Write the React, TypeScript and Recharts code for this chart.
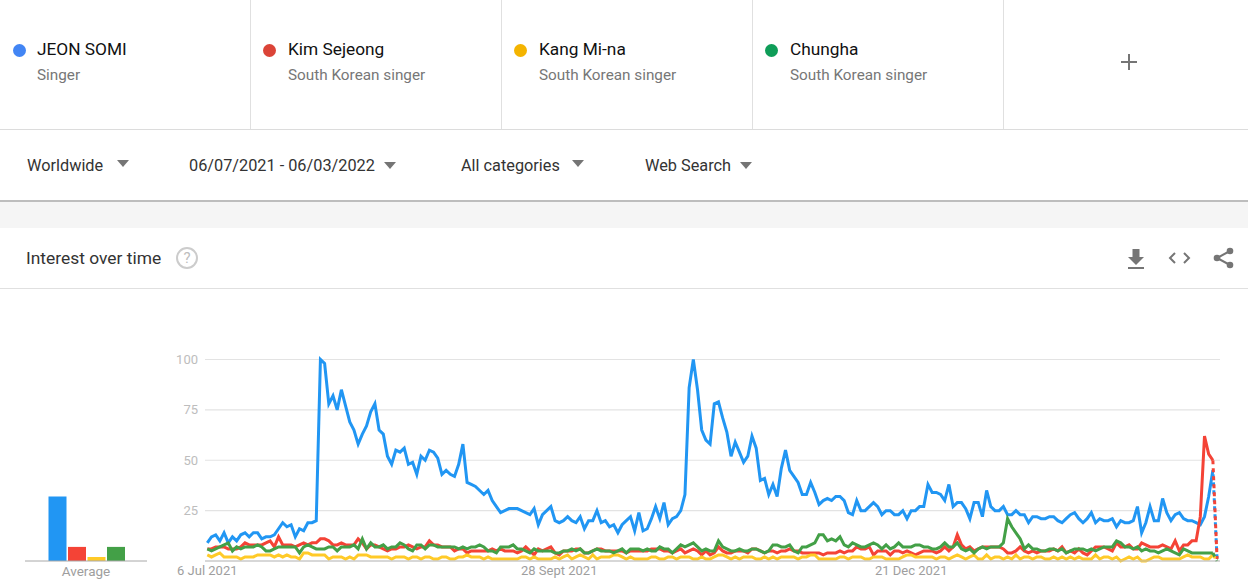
import { BarChart, Bar, LineChart, Line, XAxis, YAxis, CartesianGrid } from "recharts";

// daily interest
const jeonSomi = [
  9, 12, 13, 10, 14, 9, 12, 10, 13, 14,
  12, 14, 14, 11, 12, 12, 13, 16, 19, 17,
  18, 12, 16, 15, 19, 19, 20, 100, 98, 78,
  82, 75, 85, 77, 69, 65, 58, 63, 67, 74,
  78, 65, 63, 52, 48, 55, 54, 56, 48, 49,
  43, 52, 50, 55, 54, 51, 43, 45, 43, 42,
  48, 58, 39, 38, 37, 35, 33, 35, 30, 27,
  24, 25, 26, 26, 26, 25, 24, 23,
  26, 18, 23, 25, 27, 20, 19, 20, 22, 20,
  19, 22, 16, 20, 20, 25, 19, 20, 17, 18,
  14, 18, 20, 22, 15, 24, 15, 16, 21, 27,
  21, 29, 18, 21, 22, 25, 33, 86, 100,
  85, 65, 60, 58, 78, 79, 71, 64, 52, 59,
  54, 49, 52, 62, 56, 40, 41, 33, 38, 32,
  46, 55, 45, 42, 39, 33, 33, 39, 34, 28,
  30, 31, 30, 32, 32, 30, 24, 23, 30, 25, 25,
  27, 29, 27, 23, 25, 25, 23, 23, 25, 21,
  25, 25, 27, 27, 38, 34, 34, 33, 30, 38,
  27, 29, 29, 26, 21, 29, 29, 22, 35, 27,
  25, 25, 27, 23, 23, 25, 23, 23, 19, 22,
  22, 21, 21, 22, 22, 20, 19, 21, 23, 24,
  21, 19, 21, 24, 19, 21, 20, 20, 21, 17,
  20, 19, 19, 20, 27, 14, 19, 27, 20, 20,
  31, 24, 20, 23, 24, 21, 20, 20, 19, 18,
  22, 32, 45, 1,
];

const kimSejeong = [
  6, 6, 7, 7, 7, 6, 6, 6, 7, 9,
  8, 8, 8, 8, 9, 10, 7, 12, 8, 8,
  8, 7, 8, 9, 8, 9, 9, 11, 11, 10,
  8, 8, 9, 8, 8, 8, 11, 9, 6, 8,
  8, 7, 6, 5, 6, 6, 7, 7, 8, 7,
  6, 7, 7, 10, 8, 8, 7, 7, 7, 5,
  6, 6, 4, 5, 5, 5, 5, 5, 6, 5,
  6, 5, 5, 5, 4, 5, 7, 5,
  3, 6, 5, 6, 7, 4, 3, 5, 5, 5,
  6, 6, 4, 4, 5, 6, 6, 5, 5, 5,
  5, 5, 4, 5, 5, 5, 5, 5, 6,
  6, 6, 5, 5, 4, 5, 6, 4, 5, 6,
  5, 3, 5, 3, 4, 7, 5, 4, 4, 5,
  5, 5, 4, 6, 6, 5, 4, 5, 5, 4,
  5, 5, 6, 5, 5, 4, 4, 4, 4, 4,
  3, 4, 4, 4, 5, 4, 5, 5, 7, 6, 6,
  7, 3, 5, 5, 5, 3, 5, 5, 4, 5,
  4, 3, 4, 5, 5, 5, 4, 5, 7, 5,
  7, 13, 8, 6, 7, 5, 6, 7, 7, 7,
  7, 7, 6, 4, 4, 5, 7, 5, 4, 5,
  4, 5, 5, 5, 6, 5, 7, 4, 5, 4,
  6, 4, 3, 5, 7, 7, 7, 6, 5, 9,
  7, 7, 8, 6, 6, 9, 8, 7, 7, 7,
  8, 7, 6, 10, 5, 8, 8, 10, 10, 22,
  62, 53, 50, 1,
];

const kangMina = [
  3, 2, 3, 4, 2, 2, 2, 2, 1, 2,
  2, 2, 3, 3, 3, 3, 2, 3, 2, 3,
  2, 2, 1, 4, 4, 3, 3, 3, 3, 1,
  2, 2, 2, 1, 2, 1, 3, 3, 3, 2,
  2, 2, 2, 2, 1, 2, 2, 2, 1, 2,
  2, 1, 2, 2, 1, 1, 2, 2, 1, 1,
  2, 2, 3, 2, 2, 2, 1, 2, 1, 1,
  1, 1, 1, 1, 1, 2, 2, 1,
  2, 1, 1, 1, 1, 2, 1, 2, 3, 1,
  2, 3, 2, 1, 3, 1, 2, 2, 2, 3,
  3, 2, 1, 2, 1, 1, 1, 1, 2, 2,
  1, 1, 2, 2, 1, 2, 2, 2, 1, 1,
  2, 1, 1, 2, 3, 3, 2, 1, 2, 1,
  2, 2, 2, 1, 1, 2, 1, 2, 1, 2,
  2, 2, 2, 1, 2, 2, 3, 3, 1, 1,
  1, 1, 1, 2, 2, 1, 2, 2, 2, 1,
  1, 2, 2, 2, 1, 1, 1, 1, 2, 3,
  3, 2, 2, 2, 2, 2, 1, 2, 2, 1,
  2, 3, 2, 1, 2, 3, 1, 1, 3, 1,
  2, 2, 1, 2, 1, 3, 1, 2, 2, 1,
  2, 2, 1, 1, 2, 1, 2, 1, 2, 1,
  2, 1, 1, 1, 3, 1, 2, 2, 1, 2,
  0, 1, 2, 1, 2, 0, 0, 1, 2, 2,
  1, 1, 1, 1, 1, 2, 3, 2, 2, 2,
  1, 1, 3, 0,
];

const chungha = [
  6, 5, 6, 7, 8, 9, 5, 7, 6, 7,
  7, 7, 8, 7, 5, 5, 6, 7, 7, 7,
  7, 7, 4, 7, 8, 7, 6, 6, 6, 7,
  7, 5, 7, 7, 7, 8, 6, 11, 6, 9,
  7, 7, 8, 6, 7, 7, 9, 8, 6, 5,
  8, 8, 6, 8, 8, 7, 7, 7, 7, 7,
  6, 7, 6, 7, 7, 8, 7, 5, 5, 4,
  7, 7, 7, 8, 6, 6, 5, 4,
  6, 5, 5, 5, 5, 4, 4, 5, 5, 6,
  5, 6, 4, 4, 5, 6, 5, 5, 5, 4,
  5, 6, 4, 6, 6, 6, 5, 6, 5, 5,
  7, 6, 6, 4, 6, 8, 7, 8, 9,
  7, 5, 6, 5, 5, 10, 7, 6, 5, 5,
  6, 5, 5, 6, 6, 5, 4, 5, 8, 8,
  7, 7, 8, 5, 4, 7, 7, 8, 9, 13,
  13, 10, 11, 10, 12, 8, 7, 9, 8, 7, 7,
  8, 9, 8, 6, 8, 6, 7, 9, 7, 7,
  7, 8, 8, 7, 7, 6, 6, 7, 9, 7,
  7, 9, 6, 5, 6, 4, 6, 7, 6, 7,
  7, 7, 9, 21, 17, 14, 11, 6, 8, 6,
  6, 5, 5, 6, 6, 5, 6, 4, 5, 6,
  6, 6, 5, 6, 5, 6, 7, 7, 7, 10,
  9, 7, 7, 6, 7, 5, 6, 5, 5, 4,
  5, 6, 5, 4, 3, 6, 5, 4, 4, 4,
  4, 4, 4, 0,
];

const averages = [32, 7, 2, 7];
const yTicks = [25, 50, 75, 100];
const xTicks = [0, 84, 168];
const xTickLabels = ["6 Jul 2021", "28 Sept 2021", "21 Dec 2021"];

const terms = ["JEON SOMI", "Kim Sejeong", "Kang Mi-na", "Chungha"];
const termNotes = ["Singer", "South Korean singer", "South Korean singer", "South Korean singer"];
const termDots = ["#4285F4", "#DB4437", "#F4B400", "#0F9D58"];
const filters = ["Worldwide", "06/07/2021 - 06/03/2022", "All categories", "Web Search"];

const BLUE = "#2196F3";
const RED = "#F44336";
const YELLOW = "#FFCA28";
const GREEN = "#43A047";
const FONT = "Roboto, sans-serif";

const lastIndex = jeonSomi.length - 1;
// the last day is partial, so it gets its own dashed segment
const solid = (v: number, i: number) => (i < lastIndex ? v : null);
const partial = (v: number, i: number) => (i >= lastIndex - 1 ? v : null);

const lineData = jeonSomi.map((_, i) => ({
  day: i,
  somi: solid(jeonSomi[i], i),
  sejeong: solid(kimSejeong[i], i),
  mina: solid(kangMina[i], i),
  chungha: solid(chungha[i], i),
  somiPartial: partial(jeonSomi[i], i),
  sejeongPartial: partial(kimSejeong[i], i),
  minaPartial: partial(kangMina[i], i),
  chunghaPartial: partial(chungha[i], i),
}));

const barData = [{ name: "Average", somi: averages[0], sejeong: averages[1], mina: averages[2], chungha: averages[3] }];

const abs = (left: number, top: number, extra: React.CSSProperties = {}): React.CSSProperties => ({
  position: "absolute",
  left,
  top,
  whiteSpace: "nowrap",
  ...extra,
});

function Triangle({ x, y }: { x: number; y: number }) {
  return (
    <div
      style={abs(x, y, {
        width: 0,
        height: 0,
        borderLeft: "6.5px solid transparent",
        borderRight: "6.5px solid transparent",
        borderTop: "7px solid #757575",
      })}
    />
  );
}

function Header() {
  const termX = [37, 288, 539, 790];
  const dotX = [12.5, 263, 514, 765];
  const filterX = [27, 189, 461, 645];
  const triangleX = [116.5, 384, 572, 740];
  const triangleY = [160, 162, 160, 162];
  return (
    <>
      {[250, 501, 752, 1003].map((x) => (
        <div key={x} style={abs(x, 0, { width: 1, height: 129, background: "#e0e0e0" })} />
      ))}
      <div style={abs(0, 129, { width: 1248, height: 1, background: "#dcdcdc" })} />
      {terms.map((t, i) => (
        <div key={t}>
          <div style={abs(dotX[i], 44, { width: 13, height: 13, borderRadius: "50%", background: termDots[i] })} />
          <div style={abs(termX[i], 40, { fontSize: 17.3, lineHeight: "19px", color: "#111" })}>{t}</div>
          <div style={abs(termX[i], 67, { fontSize: 15.3, lineHeight: "17px", color: "#777" })}>{termNotes[i]}</div>
        </div>
      ))}
      <div style={abs(1121, 61, { width: 16, height: 2, background: "#757575" })} />
      <div style={abs(1128, 54, { width: 2, height: 16, background: "#757575" })} />

      {filters.map((f, i) => (
        <div key={f}>
          <div style={abs(filterX[i], 156, { fontSize: 16.3, lineHeight: "19px", color: "#333" })}>{f}</div>
          <Triangle x={triangleX[i]} y={triangleY[i]} />
        </div>
      ))}
      <div style={abs(0, 200, { width: 1248, height: 2, background: "#bdbdbd" })} />
      <div style={abs(0, 202, { width: 1248, height: 26, background: "#f5f5f5" })} />

      <div style={abs(26, 249, { fontSize: 17.4, lineHeight: "19px", color: "#333" })}>Interest over time</div>
      <div
        style={abs(176, 247, {
          width: 18,
          height: 18,
          border: "2px solid #ccc",
          borderRadius: "50%",
          color: "#bdbdbd",
          fontSize: 15,
          lineHeight: "18px",
          textAlign: "center",
        })}
      >
        ?
      </div>
      <svg style={abs(1120, 244)} width={120} height={28} viewBox="0 0 120 28">
        <path d="M12.5 5 H19.5 V13 H24 L16 21 L8 13 H12.5 Z" fill="#757575" />
        <rect x={8} y={23} width={16} height={2} fill="#757575" />
        <path d="M55 9 L50 14 L55 19 M64 9 L69 14 L64 19" fill="none" stroke="#757575" strokeWidth={2} />
        <path d="M110 7 L97 14 L110 21" fill="none" stroke="#757575" strokeWidth={2} />
        <circle cx={110} cy={7} r={3.3} fill="#757575" />
        <circle cx={97} cy={14} r={3.3} fill="#757575" />
        <circle cx={110} cy={21} r={3.3} fill="#757575" />
      </svg>
      <div style={abs(0, 288, { width: 1248, height: 1, background: "#e0e0e0" })} />
    </>
  );
}

function AverageBars() {
  return (
    <div style={abs(0, 340)}>
      <BarChart
        width={147}
        height={248}
        data={barData}
        margin={{ top: 19.5, right: 0, bottom: 0, left: 25 }}
        barCategoryGap={23.5}
        barGap={1.5}
      >
        <XAxis
          dataKey="name"
          height={27}
          tickSize={0}
          tickMargin={5}
          interval={0}
          tick={{ fill: "#9e9e9e", fontSize: 13.5, fontFamily: FONT }}
          axisLine={{ stroke: "#a8a8a8", strokeWidth: 1 }}
          tickLine={false}
        />
        <YAxis hide domain={[0, 100]} />
        <Bar dataKey="somi" fill={BLUE} isAnimationActive={false} />
        <Bar dataKey="sejeong" fill={RED} isAnimationActive={false} />
        <Bar dataKey="mina" fill={YELLOW} isAnimationActive={false} />
        <Bar dataKey="chungha" fill={GREEN} isAnimationActive={false} />
      </BarChart>
    </div>
  );
}

function InterestLines() {
  const common = { dot: false, activeDot: false, strokeWidth: 3, isAnimationActive: false, strokeLinejoin: "miter" as const };
  return (
    <div style={abs(0, 340)}>
      <LineChart width={1220} height={248} data={lineData} margin={{ top: 19.5, right: 0, bottom: 0, left: 0 }}>
        <CartesianGrid horizontal vertical={false} stroke="#e3e3e3" strokeWidth={1.2} />
        <XAxis
          type="number"
          dataKey="day"
          domain={[-0.55, 241.7]}
          ticks={xTicks}
          tickFormatter={(v: number) => xTickLabels[xTicks.indexOf(v)]}
          interval={0}
          height={27}
          tickSize={0}
          tickMargin={5}
          tick={{ fill: "#9e9e9e", fontSize: 13, fontFamily: FONT }}
          axisLine={{ stroke: "#bdbdbd" }}
          tickLine={false}
        />
        <YAxis
          type="number"
          domain={[0, 100]}
          ticks={yTicks}
          width={205}
          tickSize={0}
          tickMargin={7}
          tick={{ fill: "#bdbdbd", fontSize: 13, fontFamily: FONT }}
          axisLine={false}
          tickLine={false}
        />
        <Line dataKey="somi" stroke={BLUE} {...common} />
        <Line dataKey="sejeong" stroke={RED} {...common} />
        <Line dataKey="mina" stroke={YELLOW} {...common} />
        <Line dataKey="chungha" stroke={GREEN} {...common} />
        <Line dataKey="somiPartial" stroke={BLUE} strokeDasharray="4 4" strokeDashoffset={4} {...common} />
        <Line dataKey="sejeongPartial" stroke={RED} strokeDasharray="4 4" {...common} />
        <Line dataKey="minaPartial" stroke={YELLOW} strokeDasharray="4 4" {...common} />
        <Line dataKey="chunghaPartial" stroke={GREEN} strokeDasharray="4 4" {...common} />
      </LineChart>
    </div>
  );
}

export default function App() {
  return (
    <div style={abs(0, 0, { width: 1248, height: 588, background: "#fff", overflow: "hidden", fontFamily: FONT })}>
      <Header />
      <AverageBars />
      <InterestLines />
    </div>
  );
}
